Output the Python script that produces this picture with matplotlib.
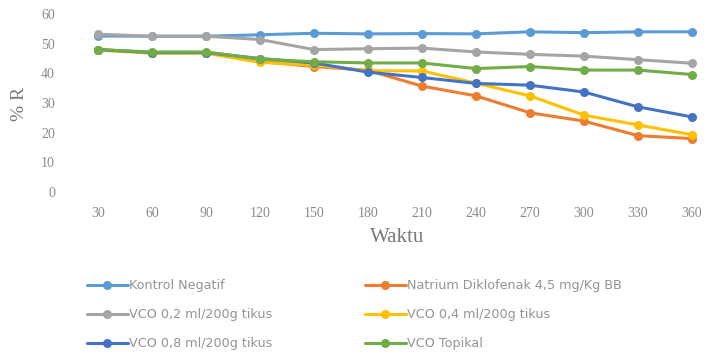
import matplotlib
matplotlib.use("Agg")
import matplotlib.pyplot as plt

# Waktu (menit) and %R per group
waktu = [30, 60, 90, 120, 150, 180, 210, 240, 270, 300, 330, 360]
kontrol_negatif = [52.6, 52.5, 52.5, 53.0, 53.5, 53.3, 53.4, 53.3, 54.0, 53.7, 54.0, 54.0]
natrium_diklofenak = [48.0, 47.0, 47.0, 44.0, 42.3, 41.0, 35.7, 32.4, 26.7, 23.9, 19.0, 18.0]
vco_02 = [53.2, 52.5, 52.5, 51.4, 48.0, 48.3, 48.5, 47.2, 46.4, 45.8, 44.6, 43.4]
vco_04 = [47.8, 46.8, 46.8, 43.7, 42.8, 40.9, 40.8, 36.7, 32.4, 25.9, 22.6, 19.3]
vco_08 = [48.0, 47.0, 47.0, 45.0, 43.5, 40.4, 38.6, 36.6, 36.0, 33.7, 28.7, 25.3]
vco_topikal = [48.0, 47.2, 47.2, 44.8, 43.9, 43.5, 43.5, 41.6, 42.3, 41.1, 41.1, 39.6]

labels = [
    "Kontrol Negatif",
    "Natrium Diklofenak 4,5 mg/Kg BB",
    "VCO 0,2 ml/200g tikus",
    "VCO 0,4 ml/200g tikus",
    "VCO 0,8 ml/200g tikus",
    "VCO Topikal",
]
series = [kontrol_negatif, natrium_diklofenak, vco_02, vco_04, vco_08, vco_topikal]
colors = ["#5B9BD5", "#ED7D31", "#A5A5A5", "#FFC000", "#4472C4", "#70AD47"]

W, H = 705, 356
fig = plt.figure(figsize=(W / 100, H / 100), dpi=100)
serif = "Liberation Serif"
text_gray = "#8a8a8a"

ax_left, ax_right, ax_bottom, ax_top = 62, 705, 192, 14
ax = fig.add_axes([ax_left / W, (H - ax_bottom) / H,
                   (ax_right - ax_left) / W, (ax_bottom - ax_top) / H])

handles = []
for vals, lab, col in zip(series, labels, colors):
    (h,) = ax.plot(waktu, vals, color=col, lw=2.2, marker="o", markersize=6.5,
                   markeredgewidth=0, label=lab, solid_capstyle="round")
    handles.append(h)

# x: 30 -> px 98, 360 -> px 692
ppu = (692 - 98) / 330
ax.set_xlim(30 - (98 - ax_left) / ppu, 360 + (ax_right - 692) / ppu)
ax.set_ylim(0, 60)
ax.set_xticks(waktu)
ax.set_xticklabels([str(v) for v in waktu])
ax.set_yticks(range(0, 61, 10))

for s in ax.spines.values():
    s.set_visible(False)
ax.tick_params(axis="both", length=0, colors=text_gray, labelsize=10)
ax.tick_params(axis="y", pad=5)
ax.tick_params(axis="x", pad=11)
for t in ax.get_xticklabels() + ax.get_yticklabels():
    t.set_fontfamily(serif)

fig.text(397 / W, 1 - 238 / H, "Waktu", ha="center", va="center",
         fontsize=15, family=serif, color="#7a7a7a")
fig.text(20 / W, 1 - 104 / H, "% R", ha="center", va="center", rotation=90,
         fontsize=14, family=serif, color="#7a7a7a")

# legend in two columns, filled row by row
col1 = [handles[0], handles[2], handles[4]]
col2 = [handles[1], handles[3], handles[5]]
for hs, x0 in ((col1, 87), (col2, 365)):
    leg = fig.legend(handles=hs, labels=[h.get_label() for h in hs],
                     loc="upper left", bbox_to_anchor=(x0 / W, 1 - 279 / H),
                     frameon=False, handlelength=3.2,
                     handletextpad=0.1, labelspacing=1.27, borderpad=0,
                     borderaxespad=0, prop={"family": "DejaVu Sans", "size": 9.2})
    for t in leg.get_texts():
        t.set_color("#949494")

fig.savefig("out.png", dpi=100)
